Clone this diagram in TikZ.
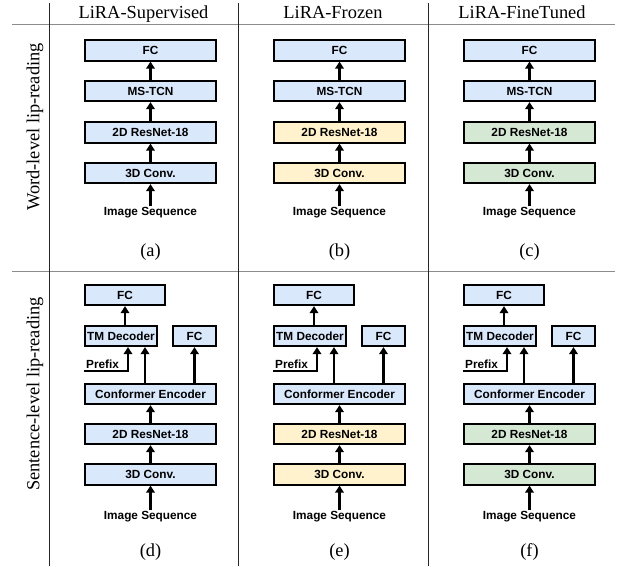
\documentclass[tikz,border=0pt]{standalone}
\usepackage{fontspec}
\setmainfont{Liberation Serif}
\setsansfont{Liberation Sans}
\usetikzlibrary{arrows.meta}
\definecolor{boxblue}{HTML}{DAE8FC}
\definecolor{boxyellow}{HTML}{FFF2CC}
\definecolor{boxgreen}{HTML}{D5E8D4}
\definecolor{rulegray}{HTML}{8C8C8C}

\begin{document}
\begin{tikzpicture}[x=1pt,y=-1pt,
  blk/.style={draw,line width=1.7pt,fill=boxblue,minimum height=20.5pt,inner sep=0pt,
    font=\sffamily\bfseries\fontsize{11.8}{14}\selectfont},
  wide/.style={blk,minimum width=131.4pt},
  txt/.style={inner sep=1pt,font=\sffamily\bfseries\fontsize{11.8}{14}\selectfont},
  head/.style={inner sep=0pt,font=\fontsize{18.4}{22}\selectfont},
  arr/.style={line width=2.1pt,-{Triangle[length=7pt,width=8.5pt]}},
  hrule/.style={draw=rulegray,line width=0.9pt},
  vrule/.style={draw=black!85,line width=0.9pt}]
 \useasboundingbox (0,0) rectangle (623,566);
 % table rules
 \draw[hrule] (12,24) -- (615,24);
 \draw[hrule] (12,271) -- (615,271);
 \foreach \X in {49,238,428}
  \draw[vrule] (\X,3) -- (\X,566);
 % headers
 \node[head,anchor=base] (hsup) at (143.5,18) {LiRA-Supervised};
 \node[head,anchor=base] (hfro) at (333,18) {LiRA-Frozen};
 \node[head,anchor=base] (hfin) at (522,18) {LiRA-FineTuned};
 \node[head,rotate=90] (rword) at (35,127) {Word-level lip-reading};
 \node[head,rotate=90] (rsent) at (35,394) {Sentence-level lip-reading};
 \foreach \X/\col/\up/\dn in {49/boxblue/a/d,238/boxyellow/b/e,428/boxgreen/c/f}{
  % word-level
  \node[wide] (fc\up) at (\X+101.5,50.5) {FC};
  \node[wide] (tcn\up) at (\X+101.5,91) {MS-TCN};
  \node[wide,fill=\col] (res\up) at (\X+101.5,132.5) {2D ResNet-18};
  \node[wide,fill=\col] (conv\up) at (\X+101.5,173) {3D Conv.};
  \node[txt] (seq\up) at (\X+101.5,213) {Image Sequence};
  \node[head] (lab\up) at (\X+101.5,252) {(\up)};
  \draw[arr] (seq\up) -- (conv\up);
  \draw[arr] (conv\up) -- (res\up);
  \draw[arr] (res\up) -- (tcn\up);
  \draw[arr] (tcn\up) -- (fc\up);
  % sentence-level
  \node[blk,minimum width=80.4pt] (fct\dn) at (\X+76,295) {FC};
  \node[blk,minimum width=72.4pt] (dec\dn) at (\X+72,336) {TM Decoder};
  \node[blk,minimum width=43.4pt] (fcs\dn) at (\X+145.5,336) {FC};
  \node[wide] (enc\dn) at (\X+101.5,394) {Conformer Encoder};
  \node[wide,fill=\col] (rsb\dn) at (\X+101.5,434) {2D ResNet-18};
  \node[wide,fill=\col] (cvb\dn) at (\X+101.5,474.5) {3D Conv.};
  \node[txt] (sqb\dn) at (\X+101.5,517) {Image Sequence};
  \node[head] (lab\dn) at (\X+101.5,552) {(\dn)};
  \node[txt,anchor=south west,inner sep=2pt] (pfx\dn) at (\X+35,371) {Prefix};
  \coordinate (pa\dn) at ([xshift=7pt]dec\dn.south);
  \coordinate (pb\dn) at ([xshift=24pt]dec\dn.south);
  \draw[arr] (dec\dn.north -| fct\dn.south) -- (fct\dn.south);
  \draw[arr] (pfx\dn.south west) -| (pa\dn);
  \draw[arr] (enc\dn.north -| pb\dn) -- (pb\dn);
  \draw[arr] (enc\dn.north -| fcs\dn.south) -- (fcs\dn.south);
  \draw[arr] (sqb\dn) -- (cvb\dn);
  \draw[arr] (cvb\dn) -- (rsb\dn);
  \draw[arr] (rsb\dn) -- (enc\dn);
 }
\end{tikzpicture}
\end{document}
